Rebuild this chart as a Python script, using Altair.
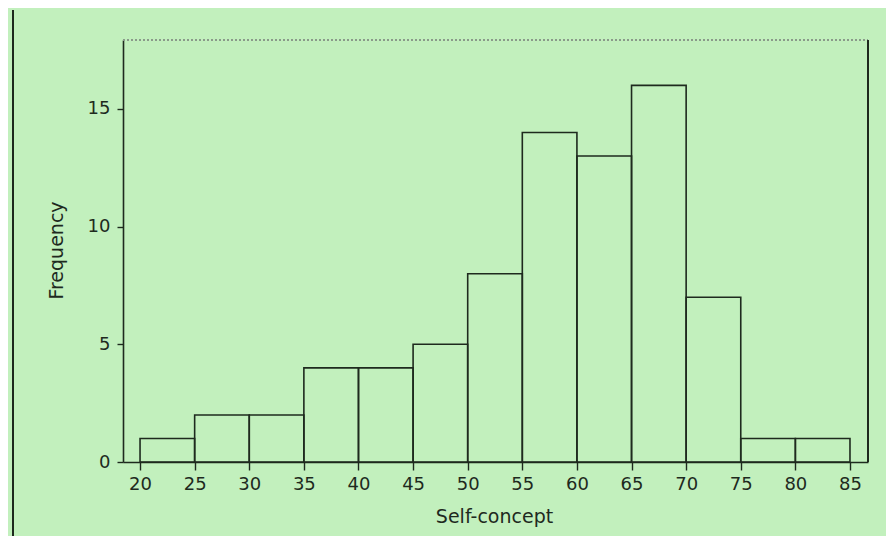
import altair as alt
import pandas as pd

bin_start = [20, 25, 30, 35, 40, 45, 50, 55, 60, 65, 70, 75, 80]
bin_end = [25, 30, 35, 40, 45, 50, 55, 60, 65, 70, 75, 80, 85]
counts = [1, 2, 2, 4, 4, 5, 8, 14, 13, 16, 7, 1, 1]
x_ticks = [20, 25, 30, 35, 40, 45, 50, 55, 60, 65, 70, 75, 80, 85]
y_ticks = [0, 5, 10, 15]

df = pd.DataFrame({"start": bin_start, "end": bin_end, "count": counts})

BG = "#c2f0bd"
INK = "#1e2a1e"
FONT = "DejaVu Sans"
W, H = 745, 422

xs = alt.Scale(domain=[18.44, 86.65], nice=False, zero=False)
ys = alt.Scale(domain=[0, 17.93], nice=False)

bars = alt.Chart(df).mark_rect(
    fill=BG, fillOpacity=0, stroke=INK, strokeWidth=1.6
).encode(
    x=alt.X("start:Q", scale=xs, axis=alt.Axis(
        values=x_ticks, title="Self-concept", grid=False,
        domainColor=INK, domainWidth=1.6, tickColor=INK, tickSize=8, tickWidth=1.4,
        labelFont=FONT, labelFontSize=18, labelColor=INK, labelPadding=5,
        titleFont=FONT, titleFontSize=19, titleFontWeight="normal", titleColor=INK,
        titleX=371, titleY=54, titleBaseline="middle", labelFlush=False)),
    x2="end:Q",
    y=alt.Y("count:Q", scale=ys, axis=alt.Axis(
        values=y_ticks, title="Frequency", grid=False,
        domainColor=INK, domainWidth=1.6, tickColor=INK, tickSize=6, tickWidth=1.4,
        labelFont=FONT, labelFontSize=18, labelColor=INK, labelPadding=7,
        titleFont=FONT, titleFontSize=19, titleFontWeight="normal", titleColor=INK,
        titleX=-67, titleY=210, titleBaseline="middle", titleAngle=-90)),
    y2=alt.datum(0),
)

top_rule = alt.Chart(df).mark_rule(color="#8a9a8a", strokeDash=[2, 2], strokeWidth=1.2).encode(
    x=alt.value(0), x2=alt.value(W), y=alt.value(0)
)
right_rule = alt.Chart(df).mark_rule(color=INK, strokeWidth=1.6).encode(
    x=alt.value(W), y=alt.value(0), y2=alt.value(H)
)
left_line = alt.Chart(df).mark_rule(color=INK, strokeWidth=1.4).encode(
    x=alt.value(-110), y=alt.value(-30), y2=alt.value(510)
)

chart = alt.layer(bars, top_rule, right_rule, left_line).properties(
    width=W, height=H, background=BG,
    autosize=alt.AutoSizeParams(type="none"),
    padding={"left": 115, "top": 32, "right": 18, "bottom": 74},
).configure_view(stroke=None)

chart.save("out.html", embed_options={"renderer": "svg", "actions": False})
